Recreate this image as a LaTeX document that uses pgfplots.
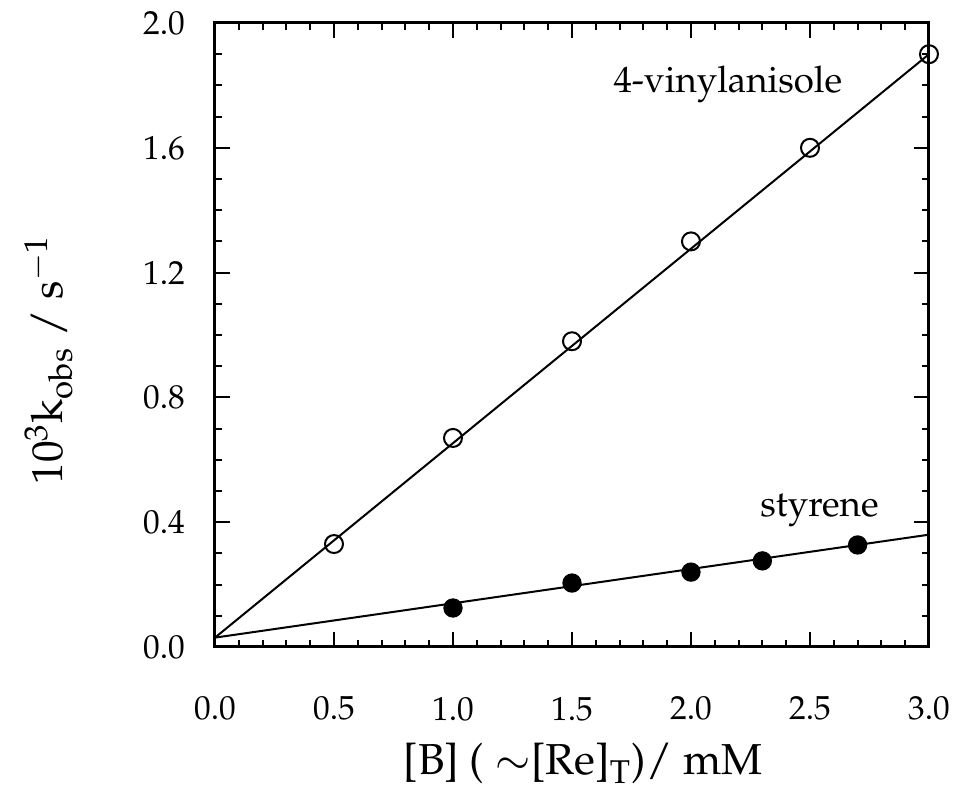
\documentclass[border=0pt]{standalone}
\usepackage[T1]{fontenc}
\usepackage{mathpazo}
\usepackage{pgfplots}
\pgfplotsset{compat=1.18}

\begin{document}
\begin{tikzpicture}
\begin{axis}[
    scale only axis,
    width=214.2pt, height=187.2pt,
    xmin=0, xmax=3, ymin=0, ymax=2,
    xtick={0,0.5,...,3}, ytick={0,0.4,...,2.0},
    minor x tick num=4, minor y tick num=3,
    tick align=inside,
    major tick length=4.5pt, minor tick length=2.2pt,
    every tick/.style={black, line width=0.6pt},
    axis line style={line width=0.9pt},
    xticklabel style={font=\fontsize{10}{11}\selectfont, yshift=-11.5pt},
    yticklabel style={font=\fontsize{10}{11}\selectfont, xshift=-5.5pt},
    /pgf/number format/.cd, fixed, fixed zerofill, precision=1, /pgfplots/.cd,
    xlabel={[B] ( $\sim$[Re]$_{\mathrm{T}}$)/ mM},
    ylabel={10$^{3}$k$_{\mathrm{obs}}$ / s$^{\mathrm{-1}}$},
    label style={font=\fontsize{13}{14}\selectfont},
    xlabel style={at={([shift={(3.3pt,-38.4pt)}]axis description cs:0.5,0)}, anchor=base},
    ylabel style={at={([shift={(-50pt,-7.5pt)}]axis description cs:0,0.5)}, anchor=center, rotate=0},
    clip=false,
]
% fitted lines
\addplot[black, line width=0.6pt] coordinates {(0,0.03) (3,1.90)};
\addplot[black, line width=0.6pt] coordinates {(0,0.03) (3,0.36)};
% 4-vinylanisole (open)
\addplot[only marks, mark=o, mark size=2.7pt, mark options={black, line width=0.6pt}] coordinates {
    (0.5,0.33) (1.0,0.67) (1.5,0.98) (2.0,1.30) (2.5,1.60) (3.0,1.90)
};
% styrene (filled)
\addplot[only marks, mark=*, mark size=2.7pt, mark options={black, fill=black}] coordinates {
    (1.0,0.125) (1.5,0.205) (2.0,0.24) (2.3,0.276) (2.7,0.327)
};
\node[anchor=base, font=\fontsize{11}{13}\selectfont] at (axis cs:2.155,1.776) {4-vinylanisole};
\node[anchor=base, font=\fontsize{11}{13}\selectfont] at (axis cs:2.54,0.417) {styrene};
\coordinate (O) at (rel axis cs:0,0);
\end{axis}
\pgfresetboundingbox
\path ([shift={(-64.5pt,-46.2pt)}]O) rectangle ++(290.1pt,240.3pt);
\end{tikzpicture}
\end{document}
